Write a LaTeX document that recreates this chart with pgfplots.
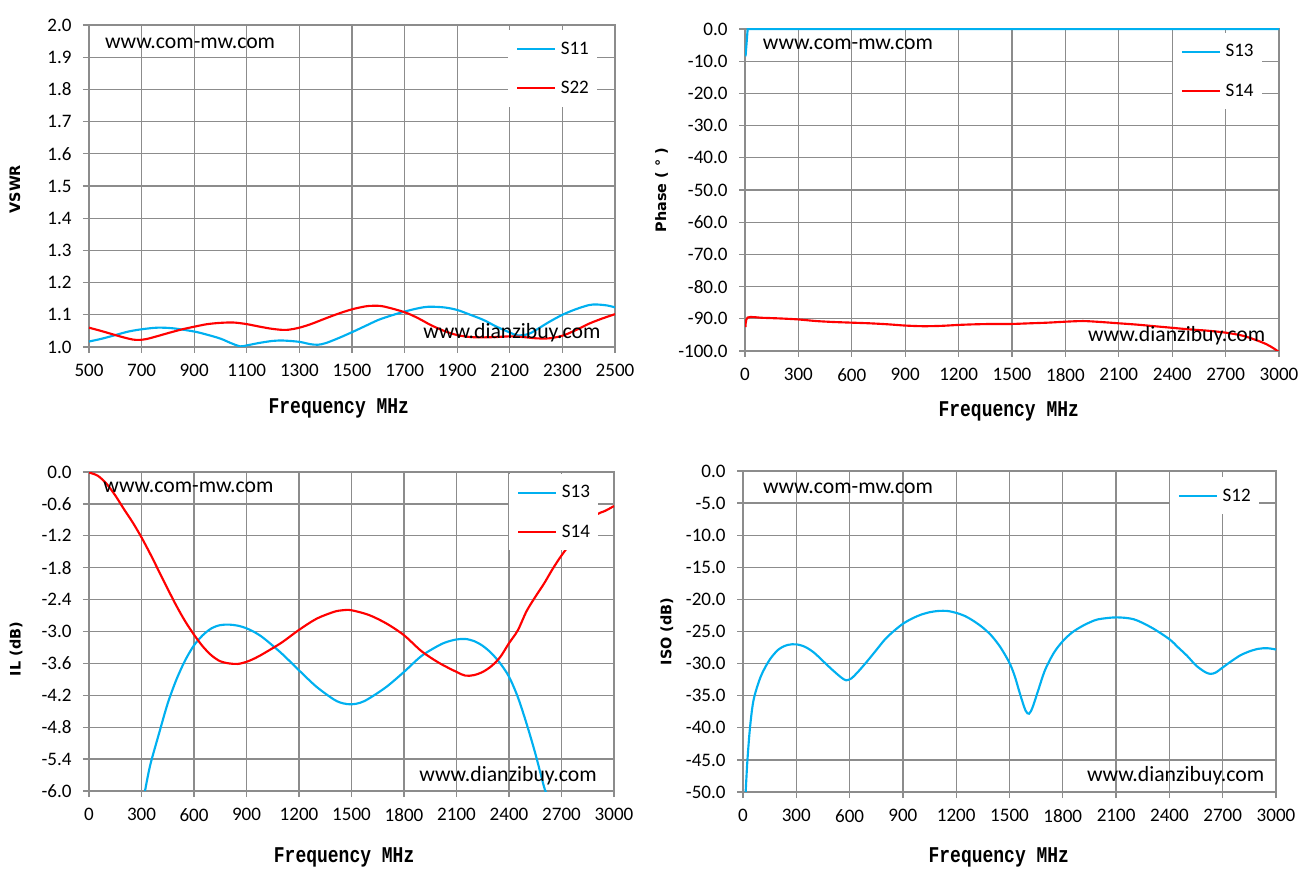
\documentclass[border=0pt]{standalone}
\usepackage{fontspec}
\setmainfont{Carlito}
\newfontfamily\labfont{DejaVu Sans}
\newfontfamily\freqfont{Liberation Mono}
\usepackage{graphicx}
\usepackage{pgfplots}
\pgfplotsset{compat=1.18}
\definecolor{gridgray}{RGB}{140,140,140}
\definecolor{sblue}{RGB}{0,176,240}
\definecolor{sred}{RGB}{255,0,0}
\newcommand{\freqlabel}{\freqfont\bfseries\scalebox{1}[1.25]{Frequency MHz}}
\tikzset{wm/.style={anchor=base west, inner sep=0pt, font=\fontsize{16.3}{19}\selectfont}}
\pgfplotsset{
  myaxis/.style={
    scale only axis,
    axis line style={gridgray, line width=1pt},
    grid=major,
    major grid style={gridgray, line width=1pt},
    tick style={gridgray, line width=1pt},
    tick align=outside,
    major tick length=4.5pt,
    xtick pos=left, ytick pos=left,
    /pgf/number format/assume math mode=true,
    /pgf/number format/1000 sep={},
    scaled x ticks=false, scaled y ticks=false,
    tick label style={font=\fontsize{14.3}{17}\selectfont, black},
    xticklabel style={yshift=-5pt},
    yticklabel style={xshift=-5pt, /pgf/number format/.cd, fixed, fixed zerofill, precision=1},
    every axis y label/.append style={font=\labfont\bfseries\fontsize{10.8}{13}\selectfont, anchor=center},
    every axis x label/.append style={font=\fontsize{13.5}{16}\selectfont, anchor=base},
    legend image code/.code={\draw[#1, line width=1.6pt] (0pt,0pt) -- (28.5pt,0pt);},
    legend style={draw=none, fill=white, anchor=north east, inner xsep=6pt, inner ysep=8.5pt,
      row sep=18.6pt, column sep=3.5pt, nodes={inner sep=0pt}, font=\fontsize{14.3}{17}\selectfont},
    legend cell align=left,
    every axis plot/.append style={line width=1.6pt},
  },
}
\begin{document}
\begin{tikzpicture}
\useasboundingbox (0,0) rectangle (981.75pt,659.25pt);

% ---------------- top-left: VSWR
\begin{axis}[myaxis,
  at={(66.75pt,399pt)}, anchor=south west,
  width=394.5pt, height=241.5pt,
  xmin=500, xmax=2500, ymin=1, ymax=2,
  xtick={500,700,...,2500},
  ytick={1,1.1,1.2,1.3,1.4,1.5,1.6,1.7,1.8,1.9,2},
  ylabel={VSWR}, xlabel={\freqlabel},
  y label style={at={(axis description cs:-0.141,0.49)}},
  x label style={at={(axis description cs:0.475,-0.205)}},
  legend style={at={(0.966,0.984)}},
]
\addplot[sblue, smooth] coordinates {
(500,1.017)(550,1.026)(600,1.037)(650,1.048)(700,1.055)(760,1.060)(820,1.058)(900,1.048)(950,1.038)(1000,1.026)(1040,1.012)(1075,1.002)(1100,1.005)(1150,1.013)(1200,1.019)(1240,1.020)(1300,1.016)(1340,1.009)(1370,1.007)(1400,1.012)(1450,1.028)(1500,1.046)(1550,1.065)(1600,1.084)(1650,1.098)(1700,1.110)(1750,1.120)(1790,1.125)(1850,1.123)(1900,1.115)(1950,1.100)(2000,1.084)(2050,1.063)(2100,1.045)(2130,1.036)(2170,1.040)(2200,1.053)(2250,1.078)(2300,1.100)(2350,1.117)(2400,1.130)(2430,1.132)(2470,1.129)(2500,1.123)
};
\addlegendentry{S11}
\addplot[sred, smooth] coordinates {
(500,1.060)(550,1.049)(600,1.037)(650,1.026)(680,1.022)(720,1.025)(800,1.043)(850,1.054)(900,1.063)(950,1.071)(1000,1.075)(1050,1.076)(1100,1.071)(1150,1.063)(1200,1.056)(1250,1.053)(1300,1.060)(1350,1.073)(1400,1.089)(1450,1.104)(1500,1.117)(1550,1.126)(1580,1.128)(1620,1.126)(1700,1.108)(1750,1.090)(1800,1.068)(1850,1.050)(1900,1.037)(1950,1.031)(2000,1.030)(2050,1.031)(2100,1.033)(2150,1.031)(2200,1.027)(2250,1.027)(2300,1.035)(2350,1.052)(2400,1.072)(2450,1.088)(2500,1.102)
};
\addlegendentry{S22}
\node[wm] at (rel axis cs:0.03,0.928) {www.com-mw.com};
\node[wm] at (rel axis cs:0.635,0.027) {www.dianzibuy.com};
\end{axis}

% ---------------- top-right: Phase
\begin{axis}[myaxis,
  at={(558.75pt,396pt)}, anchor=south west,
  width=400.5pt, height=241.5pt,
  xmin=0, xmax=3000, ymin=-100, ymax=0,
  xtick={0,300,...,3000},
  ytick={-100,-90,...,0},
  ylabel={Phase ( ° )}, xlabel={\freqlabel},
  y label style={at={(axis description cs:-0.156,0.5)}},
  x label style={at={(axis description cs:0.494,-0.202)}},
  legend style={at={(0.968,0.988)}},
]
\addplot[sblue] coordinates {(3,-8.5)(15,0)(3000,0)};
\addlegendentry{S13}
\addplot[sred, smooth] coordinates {
(3,-92.6)(15,-89.6)(100,-89.7)(200,-89.9)(300,-90.2)(400,-90.7)(500,-91.0)(600,-91.2)(700,-91.4)(800,-91.7)(900,-92.1)(1000,-92.3)(1100,-92.2)(1200,-91.9)(1300,-91.7)(1400,-91.6)(1500,-91.6)(1600,-91.4)(1700,-91.2)(1800,-90.9)(1900,-90.7)(2000,-91.0)(2100,-91.4)(2200,-91.8)(2300,-92.3)(2400,-92.8)(2500,-93.3)(2600,-93.7)(2700,-94.3)(2800,-95.3)(2900,-97.2)(2950,-98.5)(3000,-100.3)
};
\addlegendentry{S14}
\node[wm] at (rel axis cs:0.033,0.935) {www.com-mw.com};
\node[wm] at (rel axis cs:0.642,0.029) {www.dianzibuy.com};
\end{axis}

% ---------------- bottom-left: IL
\begin{axis}[myaxis,
  at={(66.75pt,66pt)}, anchor=south west,
  width=393.75pt, height=239.25pt,
  xmin=0, xmax=3000, ymin=-6, ymax=0,
  xtick={0,300,...,3000},
  ytick={-6,-5.4,-4.8,-4.2,-3.6,-3,-2.4,-1.8,-1.2,-0.6,0},
  ylabel={IL (dB)}, xlabel={\freqlabel},
  y label style={at={(axis description cs:-0.139,0.445)}},
  x label style={at={(axis description cs:0.486,-0.225)}},
  legend style={at={(0.970,0.994)}},
]
\addplot[sblue, smooth] coordinates {
(320,-6.0)(350,-5.51)(400,-4.92)(450,-4.35)(500,-3.90)(550,-3.54)(600,-3.26)(650,-3.07)(700,-2.94)(750,-2.88)(800,-2.87)(850,-2.89)(900,-2.94)(950,-3.02)(1000,-3.13)(1100,-3.41)(1200,-3.73)(1300,-4.04)(1400,-4.28)(1450,-4.35)(1500,-4.37)(1550,-4.34)(1600,-4.26)(1700,-4.04)(1800,-3.76)(1900,-3.46)(2000,-3.26)(2050,-3.19)(2100,-3.15)(2150,-3.14)(2200,-3.18)(2250,-3.27)(2300,-3.41)(2350,-3.60)(2400,-3.85)(2450,-4.23)(2500,-4.73)(2550,-5.29)(2600,-5.92)(2615,-6.05)
};
\addlegendentry{S13}
\addplot[sred, smooth] coordinates {
(0,-0.01)(50,-0.07)(100,-0.22)(150,-0.44)(200,-0.70)(250,-0.95)(300,-1.23)(350,-1.54)(400,-1.87)(450,-2.20)(500,-2.52)(550,-2.81)(600,-3.06)(650,-3.28)(700,-3.45)(750,-3.56)(800,-3.60)(850,-3.61)(900,-3.57)(950,-3.50)(1000,-3.41)(1100,-3.21)(1200,-2.97)(1300,-2.76)(1400,-2.63)(1450,-2.60)(1500,-2.60)(1600,-2.69)(1700,-2.85)(1800,-3.07)(1900,-3.37)(2000,-3.59)(2100,-3.76)(2150,-3.83)(2200,-3.82)(2250,-3.76)(2300,-3.65)(2350,-3.48)(2400,-3.22)(2450,-2.98)(2500,-2.62)(2550,-2.35)(2600,-2.10)(2650,-1.82)(2700,-1.57)(2750,-1.35)(2800,-1.15)(2850,-0.96)(2900,-0.80)(2950,-0.73)(3000,-0.64)
};
\addlegendentry{S14}
\node[wm] at (rel axis cs:0.027,0.935) {www.com-mw.com};
\node[wm] at (rel axis cs:0.629,0.029) {www.dianzibuy.com};
\end{axis}

% ---------------- bottom-right: ISO
\begin{axis}[myaxis,
  at={(557.25pt,65.25pt)}, anchor=south west,
  width=399.75pt, height=240.75pt,
  xmin=0, xmax=3000, ymin=-50, ymax=0,
  xtick={0,300,...,3000},
  ytick={-50,-45,...,0},
  ylabel={ISO (dB)}, xlabel={\freqlabel},
  y label style={at={(axis description cs:-0.143,0.5)}},
  x label style={at={(axis description cs:0.48,-0.22)}},
  legend style={at={(0.968,0.981)}},
]
\addplot[sblue, smooth] coordinates {
(15,-50)(25,-45)(40,-39.8)(60,-35.6)(100,-32.0)(150,-29.4)(200,-27.8)(250,-27.1)(300,-27.0)(350,-27.4)(400,-28.3)(450,-29.6)(500,-30.9)(550,-32.1)(580,-32.6)(610,-32.3)(650,-31.2)(700,-29.6)(750,-27.9)(800,-26.2)(850,-24.9)(900,-23.8)(950,-23.0)(1000,-22.4)(1050,-22.0)(1100,-21.8)(1150,-21.8)(1200,-22.1)(1250,-22.6)(1300,-23.4)(1350,-24.4)(1400,-25.7)(1450,-27.5)(1500,-29.9)(1530,-32.0)(1560,-34.8)(1590,-37.3)(1610,-37.8)(1630,-36.8)(1660,-34.3)(1700,-31.0)(1750,-28.3)(1800,-26.5)(1850,-25.2)(1900,-24.3)(1950,-23.6)(2000,-23.1)(2100,-22.8)(2200,-23.1)(2300,-24.4)(2400,-26.2)(2450,-27.5)(2500,-28.8)(2550,-30.3)(2600,-31.3)(2630,-31.6)(2660,-31.4)(2700,-30.6)(2750,-29.6)(2800,-28.7)(2850,-28.1)(2900,-27.7)(2950,-27.6)(3000,-27.8)
};
\addlegendentry{S12}
\node[wm] at (rel axis cs:0.037,0.93) {www.com-mw.com};
\node[wm] at (rel axis cs:0.645,0.032) {www.dianzibuy.com};
\end{axis}
\end{tikzpicture}
\end{document}
